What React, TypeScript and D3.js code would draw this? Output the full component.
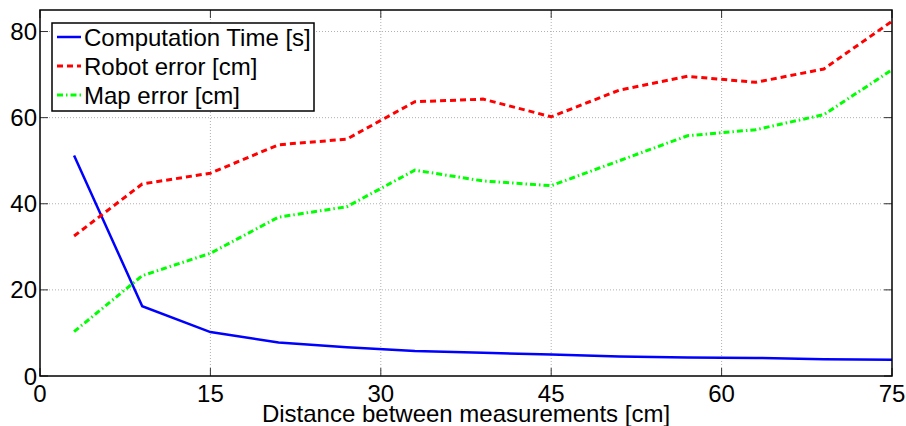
import React, { useEffect, useRef } from 'react';
import * as d3 from 'd3';

const distances = [3, 9, 15, 21, 27, 33, 39, 45, 51, 57, 63, 69, 75];
const computationTime = [51.2, 16.2, 10.2, 7.8, 6.7, 5.8, 5.4, 5.0, 4.5, 4.3, 4.2, 3.9, 3.8];
const robotError = [32.5, 44.6, 47.1, 53.7, 55.0, 63.7, 64.3, 60.2, 66.4, 69.6, 68.2, 71.3, 82.4];
const mapError = [10.3, 23.3, 28.5, 36.9, 39.3, 47.8, 45.3, 44.2, 50.0, 55.8, 57.2, 60.7, 71.1];
const xTicks = [0, 15, 30, 45, 60, 75];
const yTicks = [0, 20, 40, 60, 80];

const series = [
  { name: 'Computation Time [s]', values: computationTime, color: '#0000ff', dash: null },
  { name: 'Robot error [cm]', values: robotError, color: '#ff0000', dash: '6,4' },
  { name: 'Map error [cm]', values: mapError, color: '#00ff00', dash: '6,3,1.5,3' }
];

const App = () => {
  const svgRef = useRef<SVGSVGElement>(null);

  useEffect(() => {
    const width = 906;
    const height = 426;
    const margin = { top: 10, right: 14, bottom: 50, left: 40 };
    const w = width - margin.left - margin.right;
    const h = height - margin.top - margin.bottom;

    const root = d3.select(svgRef.current);
    root.selectAll('*').remove();
    const svg = root.append('g').attr('transform', `translate(${margin.left},${margin.top})`);

    const x = d3.scaleLinear().domain([0, 75]).range([0, w]);
    const y = d3.scaleLinear().domain([0, 85]).range([h, 0]);

    // grid (dotted)
    svg.selectAll('.gx')
      .data(xTicks.filter((t) => t > 0 && t < 75))
      .enter()
      .append('line')
      .attr('x1', (d) => x(d)).attr('x2', (d) => x(d))
      .attr('y1', 0).attr('y2', h)
      .attr('stroke', '#b0b0b0')
      .attr('stroke-dasharray', '1,2');
    svg.selectAll('.gy')
      .data(yTicks.filter((t) => t > 0))
      .enter()
      .append('line')
      .attr('x1', 0).attr('x2', w)
      .attr('y1', (d) => y(d)).attr('y2', (d) => y(d))
      .attr('stroke', '#b0b0b0')
      .attr('stroke-dasharray', '1,2');

    // lines
    const line = d3.line<number>()
      .x((_, i) => x(distances[i]))
      .y((d) => y(d));
    series.forEach((s) => {
      svg.append('path')
        .datum(s.values)
        .attr('d', line)
        .attr('fill', 'none')
        .attr('stroke', s.color)
        .attr('stroke-width', s.dash ? 3 : 2.5)
        .attr('stroke-dasharray', s.dash);
    });

    // ticks inside the box, on all four sides
    const tickLen = 8;
    xTicks.forEach((t) => {
      svg.append('line').attr('x1', x(t)).attr('x2', x(t)).attr('y1', h).attr('y2', h - tickLen)
        .attr('stroke', '#333');
      svg.append('line').attr('x1', x(t)).attr('x2', x(t)).attr('y1', 0).attr('y2', tickLen)
        .attr('stroke', '#333');
    });
    yTicks.forEach((t) => {
      svg.append('line').attr('x1', 0).attr('x2', tickLen).attr('y1', y(t)).attr('y2', y(t))
        .attr('stroke', '#333');
      svg.append('line').attr('x1', w).attr('x2', w - tickLen).attr('y1', y(t)).attr('y2', y(t))
        .attr('stroke', '#333');
    });

    // box
    svg.append('rect')
      .attr('width', w).attr('height', h)
      .attr('fill', 'none')
      .attr('stroke', '#000')
      .attr('stroke-width', 1.5);

    const font = "'Liberation Sans', Arial, sans-serif";
    const fs = 24;

    svg.selectAll('.xl')
      .data(xTicks)
      .enter()
      .append('text')
      .attr('x', (d) => x(d))
      .attr('y', h + 26)
      .attr('text-anchor', 'middle')
      .attr('font-family', font)
      .attr('font-size', fs)
      .text((d) => d);

    svg.selectAll('.yl')
      .data(yTicks)
      .enter()
      .append('text')
      .attr('x', -3)
      .attr('y', (d) => y(d) + 8.5)
      .attr('text-anchor', 'end')
      .attr('font-family', font)
      .attr('font-size', fs)
      .text((d) => d);

    svg.append('text')
      .attr('x', w / 2)
      .attr('y', h + 46)
      .attr('text-anchor', 'middle')
      .attr('font-family', font)
      .attr('font-size', fs)
      .text('Distance between measurements [cm]');

    // legend
    const lg = svg.append('g').attr('transform', 'translate(12,13)');
    lg.append('rect')
      .attr('width', 262).attr('height', 88)
      .attr('fill', '#fff')
      .attr('stroke', '#000')
      .attr('stroke-width', 1.5);
    series.forEach((s, i) => {
      const cy = 14 + i * 29;
      lg.append('line')
        .attr('x1', 5).attr('x2', 29)
        .attr('y1', cy).attr('y2', cy)
        .attr('stroke', s.color)
        .attr('stroke-width', s.dash ? 3 : 2.5)
        .attr('stroke-dasharray', s.dash);
      lg.append('text')
        .attr('x', 32)
        .attr('y', cy + 9)
        .attr('font-family', font)
        .attr('font-size', fs)
        .text(s.name);
    });
  }, []);

  return <svg ref={svgRef} width={906} height={426} style={{ position: 'absolute', left: 0, top: 0 }}></svg>;
};

export default App;
